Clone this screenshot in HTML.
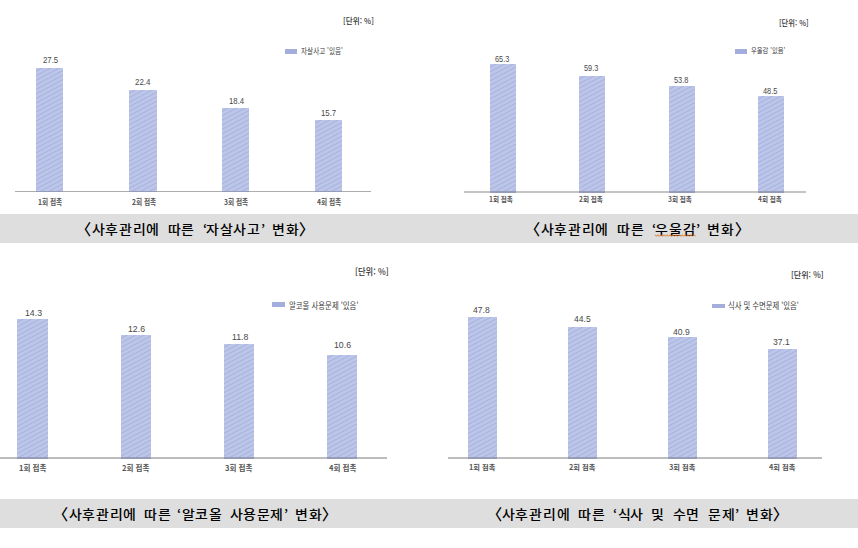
<!DOCTYPE html>
<html lang="ko"><head><meta charset="utf-8"><title>사후관리에 따른 변화</title>
<style>
html,body{margin:0;padding:0;background:#fff;}
body{width:858px;height:548px;position:relative;overflow:hidden;}
.band{position:absolute;left:0;width:858px;height:29px;background:#dedede;}
.t{position:absolute;white-space:pre;line-height:1;transform-origin:0 0;}
.c{position:absolute;white-space:pre;line-height:1;transform-origin:0 0;font-family:'Noto Sans CJK KR', sans-serif;font-weight:500;color:#000000;}
.bar{position:absolute;background-color:#bcc6ea;background-image:repeating-linear-gradient(152deg,#bcc6ea 0px,#bcc6ea 1.8px,#aab4dc 2.9px,#bcc6ea 4.0px);}
.axis{position:absolute;background:#a6a6a6;}
.sw{position:absolute;background:#a4aedc;}
.sq{position:absolute;overflow:visible;}
</style></head><body>
<div class="band" style="top:214px"></div>
<div class="band" style="top:499px"></div>
<div class="t" style="left:343.34px;top:17.47px;font-family:'Noto Sans CJK KR', sans-serif;font-weight:500;font-size:8.12px;color:#333333;transform:scaleX(0.9343);">[단위: %]</div>
<div class="sw" style="left:285px;top:48.5px;width:11.9px;height:5.4px"></div>
<div class="t" style="left:301.14px;top:46.60px;font-family:'Noto Sans CJK KR', sans-serif;font-weight:400;font-size:8.02px;color:#3a3a3a;transform:scaleX(0.8223);">자살사고 '있음'</div>
<div class="axis" style="left:14.5px;top:190.9px;width:356.8px;height:1.0px;background:#adadad"></div>
<div class="bar" style="left:36px;top:68.3px;width:27.4px;height:122.6px"></div>
<div class="axis" style="left:36px;top:190.9px;width:27.4px;height:1.0px;background:#969cb6"></div>
<div class="t" style="left:42.51px;top:56.46px;font-family:'Liberation Sans', 'Noto Sans CJK KR', sans-serif;font-weight:400;font-size:8.59px;color:#484848;transform:scaleX(0.9060);">27.5</div>
<div class="t" style="left:37.92px;top:198.22px;font-family:'Noto Sans CJK KR', sans-serif;font-weight:700;font-size:7.55px;color:#555555;transform:scaleX(0.8839);">1회 접촉</div>
<div class="bar" style="left:129px;top:89.9px;width:27.8px;height:101.0px"></div>
<div class="axis" style="left:129px;top:190.9px;width:27.8px;height:1.0px;background:#969cb6"></div>
<div class="t" style="left:134.52px;top:78.44px;font-family:'Liberation Sans', 'Noto Sans CJK KR', sans-serif;font-weight:400;font-size:8.71px;color:#484848;transform:scaleX(0.9060);">22.4</div>
<div class="t" style="left:131.85px;top:198.22px;font-family:'Noto Sans CJK KR', sans-serif;font-weight:700;font-size:7.55px;color:#555555;transform:scaleX(0.8839);">2회 접촉</div>
<div class="bar" style="left:222.4px;top:108.4px;width:26.4px;height:82.5px"></div>
<div class="axis" style="left:222.4px;top:190.9px;width:26.4px;height:1.0px;background:#969cb6"></div>
<div class="t" style="left:228.62px;top:96.56px;font-family:'Liberation Sans', 'Noto Sans CJK KR', sans-serif;font-weight:400;font-size:8.59px;color:#484848;transform:scaleX(0.9060);">18.4</div>
<div class="t" style="left:223.98px;top:198.22px;font-family:'Noto Sans CJK KR', sans-serif;font-weight:700;font-size:7.55px;color:#555555;transform:scaleX(0.8839);">3회 접촉</div>
<div class="bar" style="left:315px;top:120.4px;width:26.9px;height:70.5px"></div>
<div class="axis" style="left:315px;top:190.9px;width:26.9px;height:1.0px;background:#969cb6"></div>
<div class="t" style="left:320.79px;top:108.56px;font-family:'Liberation Sans', 'Noto Sans CJK KR', sans-serif;font-weight:400;font-size:8.59px;color:#484848;transform:scaleX(0.9060);">15.7</div>
<div class="t" style="left:317.47px;top:198.22px;font-family:'Noto Sans CJK KR', sans-serif;font-weight:700;font-size:7.55px;color:#555555;transform:scaleX(0.8839);">4회 접촉</div>
<div class="t" style="left:778.77px;top:18.58px;font-family:'Noto Sans CJK KR', sans-serif;font-weight:500;font-size:8.02px;color:#333333;transform:scaleX(0.9065);">[단위: %]</div>
<div class="sw" style="left:735.4px;top:48.9px;width:11.4px;height:5.0px"></div>
<div class="t" style="left:750.68px;top:47.49px;font-family:'Noto Sans CJK KR', sans-serif;font-weight:400;font-size:7.14px;color:#3a3a3a;transform:scaleX(0.8844);">우울감 '있음'</div>
<div class="axis" style="left:464px;top:191.2px;width:342.4px;height:1.5px;background:#c4c4c4"></div>
<div class="bar" style="left:489.9px;top:63.8px;width:26.0px;height:127.4px"></div>
<div class="axis" style="left:489.9px;top:191.2px;width:26.0px;height:1.5px;background:#969cb6"></div>
<div class="t" style="left:494.63px;top:56.07px;font-family:'Liberation Sans', 'Noto Sans CJK KR', sans-serif;font-weight:400;font-size:8.17px;color:#484848;transform:scaleX(0.8999);">65.3</div>
<div class="t" style="left:489.37px;top:195.88px;font-family:'Noto Sans CJK KR', sans-serif;font-weight:700;font-size:6.91px;color:#555555;transform:scaleX(0.9530);">1회 접촉</div>
<div class="bar" style="left:579.2px;top:75.7px;width:25.6px;height:115.5px"></div>
<div class="axis" style="left:579.2px;top:191.2px;width:25.6px;height:1.5px;background:#969cb6"></div>
<div class="t" style="left:584.27px;top:65.47px;font-family:'Liberation Sans', 'Noto Sans CJK KR', sans-serif;font-weight:400;font-size:8.17px;color:#484848;transform:scaleX(0.8999);">59.3</div>
<div class="t" style="left:578.60px;top:195.88px;font-family:'Noto Sans CJK KR', sans-serif;font-weight:700;font-size:6.91px;color:#555555;transform:scaleX(0.9530);">2회 접촉</div>
<div class="bar" style="left:668.8px;top:86.2px;width:25.8px;height:105.0px"></div>
<div class="axis" style="left:668.8px;top:191.2px;width:25.8px;height:1.5px;background:#969cb6"></div>
<div class="t" style="left:673.87px;top:76.92px;font-family:'Liberation Sans', 'Noto Sans CJK KR', sans-serif;font-weight:400;font-size:8.17px;color:#484848;transform:scaleX(0.8999);">53.8</div>
<div class="t" style="left:668.34px;top:195.88px;font-family:'Noto Sans CJK KR', sans-serif;font-weight:700;font-size:6.91px;color:#555555;transform:scaleX(0.9530);">3회 접촉</div>
<div class="bar" style="left:758px;top:95.9px;width:26.1px;height:95.3px"></div>
<div class="axis" style="left:758px;top:191.2px;width:26.1px;height:1.5px;background:#969cb6"></div>
<div class="t" style="left:762.74px;top:88.07px;font-family:'Liberation Sans', 'Noto Sans CJK KR', sans-serif;font-weight:400;font-size:8.17px;color:#484848;transform:scaleX(0.8999);">48.5</div>
<div class="t" style="left:757.72px;top:195.88px;font-family:'Noto Sans CJK KR', sans-serif;font-weight:700;font-size:6.91px;color:#555555;transform:scaleX(0.9530);">4회 접촉</div>
<div class="t" style="left:355.47px;top:267.92px;font-family:'Noto Sans CJK KR', sans-serif;font-weight:500;font-size:8.71px;color:#333333;transform:scaleX(0.9519);">[단위: %]</div>
<div class="sw" style="left:272.3px;top:302.4px;width:13.1px;height:4.6px"></div>
<div class="t" style="left:289.48px;top:300.54px;font-family:'Noto Sans CJK KR', sans-serif;font-weight:400;font-size:8.57px;color:#3a3a3a;transform:scaleX(0.8635);">알코올 사용문제 '있음'</div>
<div class="axis" style="left:0px;top:457.2px;width:386.8px;height:1.4px;background:#bcbcbc"></div>
<div class="bar" style="left:17.2px;top:318.5px;width:31.2px;height:138.7px"></div>
<div class="axis" style="left:17.2px;top:457.2px;width:31.2px;height:1.4px;background:#969cb6"></div>
<div class="t" style="left:24.60px;top:308.43px;font-family:'Liberation Sans', 'Noto Sans CJK KR', sans-serif;font-weight:400;font-size:9.44px;color:#484848;transform:scaleX(0.9258);">14.3</div>
<div class="t" style="left:18.55px;top:464.40px;font-family:'Noto Sans CJK KR', sans-serif;font-weight:700;font-size:7.77px;color:#555555;transform:scaleX(0.9713);">1회 접촉</div>
<div class="bar" style="left:120.7px;top:335.4px;width:30.5px;height:121.8px"></div>
<div class="axis" style="left:120.7px;top:457.2px;width:30.5px;height:1.4px;background:#969cb6"></div>
<div class="t" style="left:127.55px;top:323.88px;font-family:'Liberation Sans', 'Noto Sans CJK KR', sans-serif;font-weight:400;font-size:9.44px;color:#484848;transform:scaleX(0.9258);">12.6</div>
<div class="t" style="left:121.85px;top:464.40px;font-family:'Noto Sans CJK KR', sans-serif;font-weight:700;font-size:7.77px;color:#555555;transform:scaleX(0.9713);">2회 접촉</div>
<div class="bar" style="left:223.6px;top:343.6px;width:30.3px;height:113.6px"></div>
<div class="axis" style="left:223.6px;top:457.2px;width:30.3px;height:1.4px;background:#969cb6"></div>
<div class="t" style="left:231.71px;top:331.53px;font-family:'Liberation Sans', 'Noto Sans CJK KR', sans-serif;font-weight:400;font-size:9.44px;color:#484848;transform:scaleX(0.9258);">11.8</div>
<div class="t" style="left:224.69px;top:464.40px;font-family:'Noto Sans CJK KR', sans-serif;font-weight:700;font-size:7.77px;color:#555555;transform:scaleX(0.9713);">3회 접촉</div>
<div class="bar" style="left:326.9px;top:354.9px;width:30.1px;height:102.3px"></div>
<div class="axis" style="left:326.9px;top:457.2px;width:30.1px;height:1.4px;background:#969cb6"></div>
<div class="t" style="left:333.75px;top:340.33px;font-family:'Liberation Sans', 'Noto Sans CJK KR', sans-serif;font-weight:400;font-size:9.44px;color:#484848;transform:scaleX(0.9258);">10.6</div>
<div class="t" style="left:328.52px;top:464.40px;font-family:'Noto Sans CJK KR', sans-serif;font-weight:700;font-size:7.77px;color:#555555;transform:scaleX(0.9713);">4회 접촉</div>
<div class="t" style="left:791.20px;top:269.64px;font-family:'Noto Sans CJK KR', sans-serif;font-weight:500;font-size:8.42px;color:#333333;transform:scaleX(0.9543);">[단위: %]</div>
<div class="sw" style="left:712.3px;top:303.5px;width:12.8px;height:4.8px"></div>
<div class="t" style="left:728.46px;top:301.62px;font-family:'Noto Sans CJK KR', sans-serif;font-weight:400;font-size:8.79px;color:#3a3a3a;transform:scaleX(0.8337);">식사 및 수면문제 '있음'</div>
<div class="axis" style="left:447.5px;top:457.2px;width:374.2px;height:1.5px;background:#bdbdbd"></div>
<div class="bar" style="left:468.2px;top:316.9px;width:28.7px;height:140.3px"></div>
<div class="axis" style="left:468.2px;top:457.2px;width:28.7px;height:1.5px;background:#969cb6"></div>
<div class="t" style="left:473.33px;top:306.40px;font-family:'Liberation Sans', 'Noto Sans CJK KR', sans-serif;font-weight:400;font-size:9.01px;color:#484848;transform:scaleX(0.9500);">47.8</div>
<div class="t" style="left:469.02px;top:462.64px;font-family:'Noto Sans CJK KR', sans-serif;font-weight:700;font-size:7.34px;color:#555555;transform:scaleX(0.9883);">1회 접촉</div>
<div class="bar" style="left:568.1px;top:327.1px;width:29.0px;height:130.1px"></div>
<div class="axis" style="left:568.1px;top:457.2px;width:29.0px;height:1.5px;background:#969cb6"></div>
<div class="t" style="left:574.23px;top:315.45px;font-family:'Liberation Sans', 'Noto Sans CJK KR', sans-serif;font-weight:400;font-size:9.01px;color:#484848;transform:scaleX(0.9500);">44.5</div>
<div class="t" style="left:569.21px;top:462.64px;font-family:'Noto Sans CJK KR', sans-serif;font-weight:700;font-size:7.34px;color:#555555;transform:scaleX(0.9883);">2회 접촉</div>
<div class="bar" style="left:668.1px;top:336.8px;width:28.6px;height:120.4px"></div>
<div class="axis" style="left:668.1px;top:457.2px;width:28.6px;height:1.5px;background:#969cb6"></div>
<div class="t" style="left:672.53px;top:327.55px;font-family:'Liberation Sans', 'Noto Sans CJK KR', sans-serif;font-weight:400;font-size:9.01px;color:#484848;transform:scaleX(0.9500);">40.9</div>
<div class="t" style="left:669.05px;top:462.64px;font-family:'Noto Sans CJK KR', sans-serif;font-weight:700;font-size:7.34px;color:#555555;transform:scaleX(0.9883);">3회 접촉</div>
<div class="bar" style="left:768.1px;top:348.6px;width:29.4px;height:108.6px"></div>
<div class="axis" style="left:768.1px;top:457.2px;width:29.4px;height:1.5px;background:#969cb6"></div>
<div class="t" style="left:773.49px;top:337.85px;font-family:'Liberation Sans', 'Noto Sans CJK KR', sans-serif;font-weight:400;font-size:9.01px;color:#484848;transform:scaleX(0.9500);">37.1</div>
<div class="t" style="left:769.49px;top:462.64px;font-family:'Noto Sans CJK KR', sans-serif;font-weight:700;font-size:7.34px;color:#555555;transform:scaleX(0.9883);">4회 접촉</div>
<span class="c" style="left:75.82px;top:221.30px;font-size:15.5px;">〈</span>
<span class="c" style="left:92.38px;top:222.66px;font-size:12.7px;transform:scaleX(1.1);">사</span>
<span class="c" style="left:105.37px;top:222.66px;font-size:12.7px;transform:scaleX(1.1);">후</span>
<span class="c" style="left:119.30px;top:222.66px;font-size:12.7px;transform:scaleX(1.1);">관</span>
<span class="c" style="left:133.28px;top:222.66px;font-size:12.7px;transform:scaleX(1.1);">리</span>
<span class="c" style="left:146.33px;top:222.66px;font-size:12.7px;transform:scaleX(1.1);">에</span>
<span class="c" style="left:168.19px;top:222.66px;font-size:12.7px;transform:scaleX(1.1);">따</span>
<span class="c" style="left:181.42px;top:222.66px;font-size:12.7px;transform:scaleX(1.1);">른</span>
<span class="c" style="left:203.09px;top:222.66px;font-size:12.7px;transform:scaleX(1.1);">‘</span>
<span class="c" style="left:205.80px;top:222.66px;font-size:12.7px;transform:scaleX(1.1);">자</span>
<span class="c" style="left:219.85px;top:222.66px;font-size:12.7px;transform:scaleX(1.1);">살</span>
<span class="c" style="left:232.73px;top:222.66px;font-size:12.7px;transform:scaleX(1.1);">사</span>
<span class="c" style="left:247.17px;top:222.66px;font-size:12.7px;transform:scaleX(1.1);">고</span>
<span class="c" style="left:260.91px;top:222.66px;font-size:12.7px;transform:scaleX(1.1);">’</span>
<span class="c" style="left:272.14px;top:222.66px;font-size:12.7px;transform:scaleX(1.1);">변</span>
<span class="c" style="left:286.00px;top:222.66px;font-size:12.7px;transform:scaleX(1.1);">화</span>
<span class="c" style="left:298.73px;top:221.30px;font-size:15.5px;">〉</span>
<span class="c" style="left:524.82px;top:221.30px;font-size:15.5px;">〈</span>
<span class="c" style="left:541.18px;top:222.66px;font-size:12.7px;transform:scaleX(1.1);">사</span>
<span class="c" style="left:554.27px;top:222.66px;font-size:12.7px;transform:scaleX(1.1);">후</span>
<span class="c" style="left:568.20px;top:222.66px;font-size:12.7px;transform:scaleX(1.1);">관</span>
<span class="c" style="left:582.18px;top:222.66px;font-size:12.7px;transform:scaleX(1.1);">리</span>
<span class="c" style="left:595.38px;top:222.66px;font-size:12.7px;transform:scaleX(1.1);">에</span>
<span class="c" style="left:616.79px;top:222.66px;font-size:12.7px;transform:scaleX(1.1);">따</span>
<span class="c" style="left:630.57px;top:222.66px;font-size:12.7px;transform:scaleX(1.1);">른</span>
<span class="c" style="left:651.99px;top:222.66px;font-size:12.7px;transform:scaleX(1.1);">‘</span>
<span class="c" style="left:655.22px;top:222.66px;font-size:12.7px;transform:scaleX(1.1);">우</span>
<span class="c" style="left:669.37px;top:222.66px;font-size:12.7px;transform:scaleX(1.1);">울</span>
<span class="c" style="left:682.55px;top:222.66px;font-size:12.7px;transform:scaleX(1.1);">감</span>
<span class="c" style="left:695.61px;top:222.66px;font-size:12.7px;transform:scaleX(1.1);">’</span>
<span class="c" style="left:707.29px;top:222.66px;font-size:12.7px;transform:scaleX(1.1);">변</span>
<span class="c" style="left:721.15px;top:222.66px;font-size:12.7px;transform:scaleX(1.1);">화</span>
<span class="c" style="left:734.68px;top:221.30px;font-size:15.5px;">〉</span>
<svg class="sq" style="left:655px;top:233.7px" width="40.5" height="3" viewBox="0 0 40.5 3"><path d="M0.0 0.7 L1.5 2.3 L3.0 0.7 L4.5 2.3 L6.0 0.7 L7.5 2.3 L9.0 0.7 L10.5 2.3 L12.0 0.7 L13.5 2.3 L15.0 0.7 L16.5 2.3 L18.0 0.7 L19.5 2.3 L21.0 0.7 L22.5 2.3 L24.0 0.7 L25.5 2.3 L27.0 0.7 L28.5 2.3 L30.0 0.7 L31.5 2.3 L33.0 0.7 L34.5 2.3 L36.0 0.7 L37.5 2.3 L39.0 0.7 L40.5 2.3" fill="none" stroke="#e07828" stroke-width="1.0"/></svg>
<span class="c" style="left:52.82px;top:506.31px;font-size:15.5px;">〈</span>
<span class="c" style="left:69.18px;top:507.66px;font-size:12.7px;transform:scaleX(1.1);">사</span>
<span class="c" style="left:82.17px;top:507.66px;font-size:12.7px;transform:scaleX(1.1);">후</span>
<span class="c" style="left:96.10px;top:507.66px;font-size:12.7px;transform:scaleX(1.1);">관</span>
<span class="c" style="left:110.08px;top:507.66px;font-size:12.7px;transform:scaleX(1.1);">리</span>
<span class="c" style="left:123.38px;top:507.66px;font-size:12.7px;transform:scaleX(1.1);">에</span>
<span class="c" style="left:144.09px;top:507.66px;font-size:12.7px;transform:scaleX(1.1);">따</span>
<span class="c" style="left:157.52px;top:507.66px;font-size:12.7px;transform:scaleX(1.1);">른</span>
<span class="c" style="left:177.34px;top:507.66px;font-size:12.7px;transform:scaleX(1.1);">‘</span>
<span class="c" style="left:181.71px;top:507.66px;font-size:12.7px;transform:scaleX(1.1);">알</span>
<span class="c" style="left:195.42px;top:507.66px;font-size:12.7px;transform:scaleX(1.1);">코</span>
<span class="c" style="left:209.42px;top:507.66px;font-size:12.7px;transform:scaleX(1.1);">올</span>
<span class="c" style="left:229.63px;top:507.66px;font-size:12.7px;transform:scaleX(1.1);">사</span>
<span class="c" style="left:243.42px;top:507.66px;font-size:12.7px;transform:scaleX(1.1);">용</span>
<span class="c" style="left:257.14px;top:507.66px;font-size:12.7px;transform:scaleX(1.1);">문</span>
<span class="c" style="left:270.44px;top:507.66px;font-size:12.7px;transform:scaleX(1.1);">제</span>
<span class="c" style="left:283.71px;top:507.66px;font-size:12.7px;transform:scaleX(1.1);">’</span>
<span class="c" style="left:295.19px;top:507.66px;font-size:12.7px;transform:scaleX(1.1);">변</span>
<span class="c" style="left:309.15px;top:507.66px;font-size:12.7px;transform:scaleX(1.1);">화</span>
<span class="c" style="left:321.68px;top:506.31px;font-size:15.5px;">〉</span>
<span class="c" style="left:486.82px;top:506.31px;font-size:15.5px;">〈</span>
<span class="c" style="left:502.38px;top:507.66px;font-size:12.7px;transform:scaleX(1.1);">사</span>
<span class="c" style="left:515.37px;top:507.66px;font-size:12.7px;transform:scaleX(1.1);">후</span>
<span class="c" style="left:529.30px;top:507.66px;font-size:12.7px;transform:scaleX(1.1);">관</span>
<span class="c" style="left:543.28px;top:507.66px;font-size:12.7px;transform:scaleX(1.1);">리</span>
<span class="c" style="left:557.28px;top:507.66px;font-size:12.7px;transform:scaleX(1.1);">에</span>
<span class="c" style="left:578.29px;top:507.66px;font-size:12.7px;transform:scaleX(1.1);">따</span>
<span class="c" style="left:592.42px;top:507.66px;font-size:12.7px;transform:scaleX(1.1);">른</span>
<span class="c" style="left:612.74px;top:507.66px;font-size:12.7px;transform:scaleX(1.1);">‘</span>
<span class="c" style="left:617.91px;top:507.66px;font-size:12.7px;transform:scaleX(1.1);">식</span>
<span class="c" style="left:630.13px;top:507.66px;font-size:12.7px;transform:scaleX(1.1);">사</span>
<span class="c" style="left:651.33px;top:507.66px;font-size:12.7px;transform:scaleX(1.1);">및</span>
<span class="c" style="left:673.37px;top:507.66px;font-size:12.7px;transform:scaleX(1.1);">수</span>
<span class="c" style="left:686.04px;top:507.66px;font-size:12.7px;transform:scaleX(1.1);">면</span>
<span class="c" style="left:708.29px;top:507.66px;font-size:12.7px;transform:scaleX(1.1);">문</span>
<span class="c" style="left:721.69px;top:507.66px;font-size:12.7px;transform:scaleX(1.1);">제</span>
<span class="c" style="left:734.81px;top:507.66px;font-size:12.7px;transform:scaleX(1.1);">’</span>
<span class="c" style="left:746.09px;top:507.66px;font-size:12.7px;transform:scaleX(1.1);">변</span>
<span class="c" style="left:760.10px;top:507.66px;font-size:12.7px;transform:scaleX(1.1);">화</span>
<span class="c" style="left:772.68px;top:506.31px;font-size:15.5px;">〉</span>
</body></html>
